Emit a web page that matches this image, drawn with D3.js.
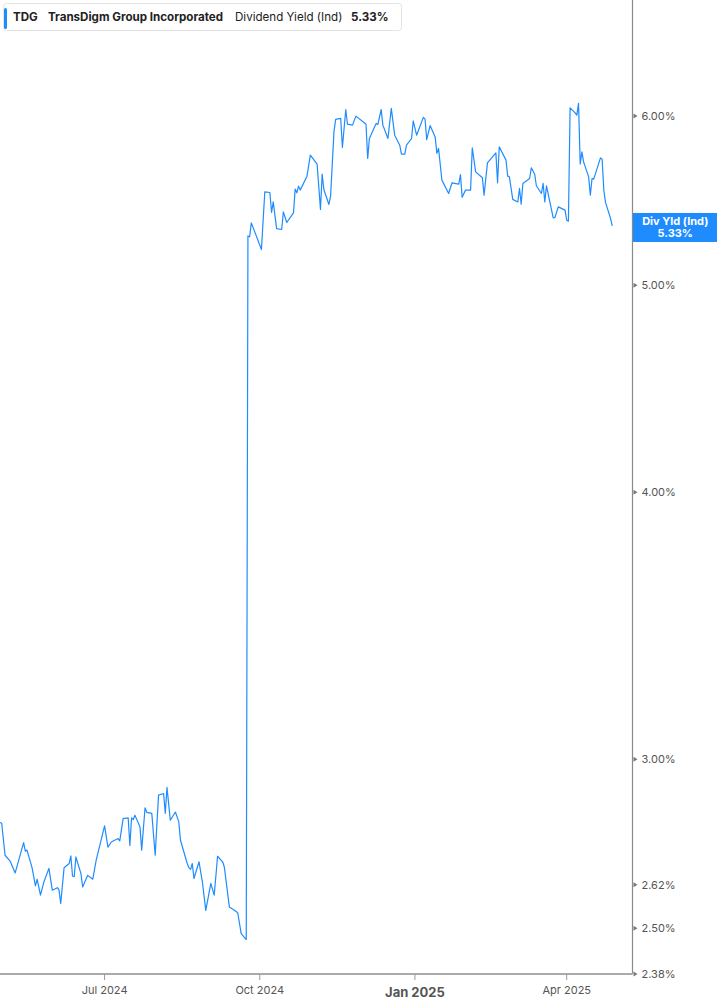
<!DOCTYPE html>
<html>
<head>
<meta charset="utf-8">
<script src="https://cdn.jsdelivr.net/npm/d3@7/dist/d3.min.js"></script>
<style>
  html, body { margin: 0; padding: 0; background: #fff; }
  svg { display: block; font-family: Inter, "Noto Sans", sans-serif; }
</style>
</head>
<body>
<svg id="chart" width="717" height="1005"></svg>
<script>
// ---- Data ----
const ticker = "TDG";
const companyName = "TransDigm Group Incorporated";
const metricName = "Dividend Yield (Ind)";
const lastValueLabel = "5.33%";
const badgeTitle = "Div Yld (Ind)";

const dates = [
  "2024-04-30","2024-05-01","2024-05-03","2024-05-06","2024-05-09","2024-05-14","2024-05-15","2024-05-16",
  "2024-05-19","2024-05-21","2024-05-22","2024-05-24","2024-05-26","2024-05-29","2024-05-31","2024-06-03",
  "2024-06-04","2024-06-05","2024-06-07","2024-06-10","2024-06-11","2024-06-12","2024-06-13","2024-06-14",
  "2024-06-17","2024-06-18","2024-06-21","2024-06-24","2024-06-26","2024-07-01","2024-07-03","2024-07-05",
  "2024-07-09","2024-07-10","2024-07-12","2024-07-15","2024-07-16","2024-07-17","2024-07-18","2024-07-19",
  "2024-07-22","2024-07-23","2024-07-25","2024-07-26","2024-07-29","2024-07-31","2024-08-02","2024-08-05",
  "2024-08-06","2024-08-07","2024-08-09","2024-08-12","2024-08-14","2024-08-15","2024-08-19","2024-08-20",
  "2024-08-21","2024-08-22","2024-08-23","2024-08-26","2024-08-28","2024-08-30","2024-09-02","2024-09-04",
  "2024-09-06","2024-09-09","2024-09-10","2024-09-13","2024-09-17","2024-09-18","2024-09-20","2024-09-23",
  "2024-09-24","2024-09-25","2024-09-26","2024-10-02","2024-10-04","2024-10-07","2024-10-08","2024-10-09",
  "2024-10-11","2024-10-14","2024-10-15","2024-10-17","2024-10-21","2024-10-22","2024-10-23","2024-10-24",
  "2024-10-25","2024-10-29","2024-10-31","2024-11-04","2024-11-06","2024-11-07","2024-11-08","2024-11-11",
  "2024-11-12","2024-11-14","2024-11-15","2024-11-18","2024-11-19","2024-11-21","2024-11-22","2024-11-25",
  "2024-11-27","2024-12-02","2024-12-03","2024-12-04","2024-12-05","2024-12-09","2024-12-10","2024-12-12",
  "2024-12-13","2024-12-16","2024-12-18","2024-12-20","2024-12-23","2024-12-24","2024-12-26","2024-12-27",
  "2024-12-30","2024-12-31","2025-01-02","2025-01-06","2025-01-07","2025-01-08","2025-01-10","2025-01-13",
  "2025-01-14","2025-01-15","2025-01-17","2025-01-21","2025-01-23","2025-01-27","2025-01-28","2025-01-29",
  "2025-01-31","2025-02-03","2025-02-04","2025-02-06","2025-02-10","2025-02-11","2025-02-13","2025-02-18",
  "2025-02-19","2025-02-20","2025-02-24","2025-02-25","2025-02-26","2025-02-28","2025-03-03","2025-03-04",
  "2025-03-05","2025-03-06","2025-03-10","2025-03-11","2025-03-13","2025-03-14","2025-03-17","2025-03-18",
  "2025-03-19","2025-03-20","2025-03-24","2025-03-25","2025-03-27","2025-03-31","2025-04-01","2025-04-02",
  "2025-04-03","2025-04-06","2025-04-07","2025-04-08","2025-04-09","2025-04-10","2025-04-11","2025-04-14",
  "2025-04-15","2025-04-16","2025-04-17","2025-04-21","2025-04-22","2025-04-23","2025-04-24","2025-04-27",
  "2025-04-28"
];

const yieldValues = [
  2.802,2.800,2.705,2.688,2.654,2.742,2.717,2.720,
  2.669,2.617,2.636,2.591,2.628,2.667,2.605,2.612,
  2.605,2.568,2.669,2.681,2.703,2.645,2.643,2.700,
  2.652,2.614,2.647,2.636,2.690,2.792,2.729,2.744,
  2.754,2.747,2.814,2.816,2.734,2.816,2.811,2.824,
  2.789,2.720,2.847,2.833,2.830,2.705,2.886,2.891,
  2.830,2.910,2.809,2.834,2.804,2.749,2.681,2.669,
  2.664,2.681,2.638,2.686,2.628,2.549,2.624,2.591,
  2.702,2.686,2.671,2.558,2.546,2.541,2.486,2.470,
  5.273,5.268,5.348,5.197,5.530,5.526,5.408,5.470,
  5.315,5.310,5.412,5.350,5.406,5.546,5.524,5.564,
  5.540,5.624,5.753,5.698,5.426,5.636,5.544,5.455,
  5.504,5.899,5.979,5.985,5.801,6.043,5.948,5.942,
  6.000,5.957,5.948,5.732,5.857,5.953,5.946,6.043,
  5.942,5.857,6.050,5.878,5.815,5.759,5.759,5.815,
  5.857,5.970,5.878,5.992,5.981,5.850,5.939,5.867,
  5.764,5.795,5.600,5.520,5.584,5.576,5.634,5.497,
  5.540,5.540,5.799,5.650,5.614,5.510,5.705,5.767,
  5.584,5.805,5.722,5.624,5.620,5.485,5.470,5.550,
  5.457,5.580,5.610,5.675,5.636,5.566,5.520,5.580,
  5.470,5.566,5.377,5.379,5.441,5.422,5.363,5.358,
  6.054,6.021,6.006,6.083,5.698,5.773,5.711,5.620,
  5.510,5.610,5.606,5.736,5.728,5.540,5.467,5.373,
  5.330
];

const yTickValues = [2.38, 2.50, 2.62, 3.00, 4.00, 5.00, 6.00];
const xTickDates = ["2024-07-01","2024-10-01","2025-01-01","2025-04-01"];
const xTickLabels = ["Jul 2024","Oct 2024","Jan 2025","Apr 2025"];
const xDomain = ["2024-04-30","2025-05-10"];
const yDomain = [2.38, 6.80];

// ---- Drawing ----
const parse = d3.utcParse("%Y-%m-%d");
const series = dates.map((d, i) => ({ date: parse(d), value: yieldValues[i] }));

const svg = d3.select("#chart");
const plotLeft = 0, plotRight = 632.5, plotTop = 0, plotBottom = 974;
const lineColor = "#1e8cff";

const x = d3.scaleUtc().domain(xDomain.map(parse)).range([plotLeft, plotRight]);
const y = d3.scaleLog().domain(yDomain).range([plotBottom, plotTop]);

// line
const line = d3.line().x(d => x(d.date)).y(d => y(d.value));
svg.append("path")
  .datum(series)
  .attr("fill", "none")
  .attr("stroke", lineColor)
  .attr("stroke-width", 1.2)
  .attr("stroke-linejoin", "round")
  .attr("d", line);

// right axis
const yAxisG = svg.append("g").attr("transform", `translate(${plotRight},0)`);
yAxisG.append("line")
  .attr("x1", 0).attr("x2", 0).attr("y1", plotTop).attr("y2", plotBottom)
  .attr("stroke", "#8a8a8a").attr("stroke-width", 1.2);
const yt = yAxisG.selectAll("g.tick").data(yTickValues).enter().append("g")
  .attr("class", "tick").attr("transform", d => `translate(0,${y(d)})`);
yt.append("path").attr("d", "M1,-2.5 L5,0 L1,2.5 Z").attr("fill", "#777");
yt.append("text")
  .attr("x", 9).attr("dy", "0.35em")
  .attr("font-size", 11).attr("fill", "#555")
  .text(d => d.toFixed(2) + "%");

// bottom axis
const xAxisG = svg.append("g").attr("transform", `translate(0,${plotBottom})`);
xAxisG.append("line")
  .attr("x1", plotLeft).attr("x2", plotRight).attr("y1", 0).attr("y2", 0)
  .attr("stroke", "#aaaaaa").attr("stroke-width", 2);
const xt = xAxisG.selectAll("g.tick").data(xTickDates).enter().append("g")
  .attr("class", "tick").attr("transform", d => `translate(${x(parse(d))},0)`);
xt.append("line").attr("y1", 0).attr("y2", 6).attr("stroke", "#999").attr("stroke-width", 1);
xt.append("text")
  .attr("y", (d, i) => xTickLabels[i].startsWith("Jan") ? 23 : 20)
  .attr("text-anchor", "middle")
  .attr("font-size", (d, i) => xTickLabels[i].startsWith("Jan") ? 13 : 11)
  .attr("font-weight", (d, i) => xTickLabels[i].startsWith("Jan") ? 700 : 400)
  .attr("fill", "#555")
  .text((d, i) => xTickLabels[i]);

// last value badge
const last = series[series.length - 1];
const badgeY = y(last.value);
const badge = svg.append("g").attr("transform", `translate(${plotRight + 0.5},${badgeY})`);
badge.append("rect")
  .attr("x", 0).attr("y", -13).attr("width", 717 - plotRight).attr("height", 29)
  .attr("fill", "#1e8cff");
badge.append("text")
  .attr("x", (717 - plotRight) / 2).attr("y", -1)
  .attr("text-anchor", "middle").attr("font-size", 11).attr("font-weight", 700)
  .attr("fill", "#fff").text(badgeTitle);
badge.append("text")
  .attr("x", (717 - plotRight) / 2).attr("y", 11)
  .attr("text-anchor", "middle").attr("font-size", 11).attr("font-weight", 700)
  .attr("fill", "#fff").text(lastValueLabel);

// legend
const legend = svg.append("g");
legend.append("rect")
  .attr("x", 3.5).attr("y", 3.5).attr("width", 398).attr("height", 27).attr("rx", 3)
  .attr("fill", "#fff").attr("stroke", "#e3e3e3");
legend.append("rect")
  .attr("x", 4).attr("y", 8).attr("width", 3).attr("height", 21).attr("rx", 1.5)
  .attr("fill", lineColor);
const lt = legend.append("text").attr("y", 21).attr("font-size", 11.6).attr("fill", "#222");
lt.append("tspan").attr("x", 13).attr("font-weight", 700).text(ticker);
lt.append("tspan").attr("x", 48).attr("font-weight", 700).text(companyName);
lt.append("tspan").attr("x", 235).attr("font-weight", 400).text(metricName);
lt.append("tspan").attr("x", 351).attr("font-weight", 700).text(lastValueLabel);
</script>
</body>
</html>
